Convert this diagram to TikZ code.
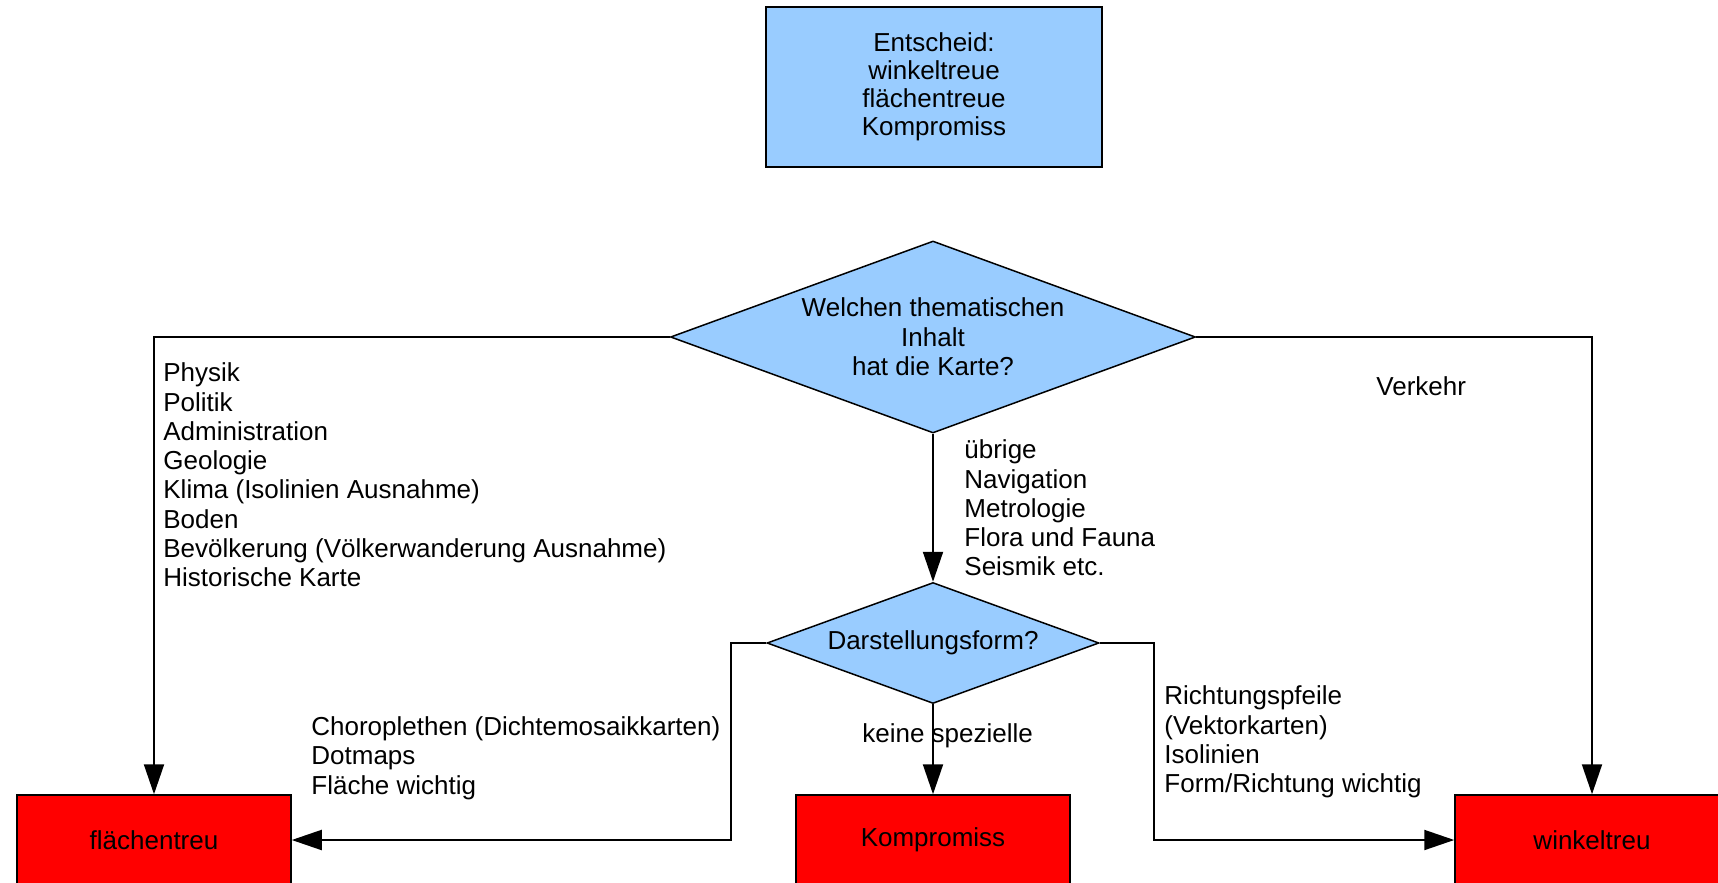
\documentclass[tikz,border=0pt]{standalone}
\usepackage{fontspec}
\setmainfont{Liberation Sans}
\usetikzlibrary{arrows.meta}
\usetikzlibrary{shapes.geometric}
\definecolor{DiagramBlue}{RGB}{153,204,255}
\definecolor{DiagramRed}{RGB}{255,0,0}

\begin{document}
\begin{tikzpicture}[x=0.5bp,y=-0.5bp,line join=miter]
  \path[use as bounding box] (0,0) rectangle (1718,882);
  \fill[white] (0,0) rectangle (1718,882);

  \tikzset{
    box/.style={draw=black,line width=0.75bp,fill=DiagramBlue,inner sep=0pt,align=center,
      font=\fontsize{13bp}{14bp}\selectfont},
    frage/.style={shape=diamond,draw=black,line width=0.75bp,fill=DiagramBlue,inner sep=0pt,
      align=center,font=\fontsize{13bp}{14.7bp}\selectfont},
    ziel/.style={draw=black,line width=0.75bp,fill=DiagramRed,minimum width=137bp,
      minimum height=45bp,inner sep=0pt,font=\fontsize{13bp}{13bp}\selectfont},
    liste/.style={anchor=west,inner sep=0pt,align=left,
      font=\fontsize{13bp}{14.65bp}\selectfont},
    pfeil/.style={-{Triangle[length=15bp,width=10bp]},line width=1bp},
  }

  % Entscheid oben
  \node[box,minimum width=168bp,minimum height=80bp] (entscheid) at (934,87)
    {Entscheid:\\winkeltreue\\flächentreue\\Kompromiss};

  % Fragen
  \node[frage,aspect=2.73,minimum width=262.5bp,minimum height=96bp] (inhalt) at (933,337)
    {Welchen thematischen\\Inhalt\\hat die Karte?};
  \node[frage,aspect=2.74,minimum width=166bp,minimum height=60.5bp] (form) at (933,643)
    {Darstellungsform?};

  % Ergebnisse
  \node[ziel] (flaeche) at (154,840) {flächentreu};
  \node[ziel] (kompromiss) at (933,840) {Kompromiss};
  \node[ziel] (winkel) at (1592,840) {winkeltreu};

  % Beschriftungen
  \node[liste] (themen) at (163,475) {Physik\\Politik\\Administration\\Geologie\\Klima (Isolinien Ausnahme)\\Boden\\Bevölkerung (Völkerwanderung Ausnahme)\\Historische Karte};
  \node[liste] (verkehr) at (1376,386) {Verkehr};
  \node[liste] (uebrige) at (964,508) {übrige\\Navigation\\Metrologie\\Flora und Fauna\\Seismik etc.};
  \node[liste] (choro) at (311,758) {Choroplethen (Dichtemosaikkarten)\\Dotmaps\\Fläche wichtig};
  \node[liste] (keine) at (862,736) {keine spezielle};
  \node[liste] (richtung) at (1164,742) {Richtungspfeile\\(Vektorkarten)\\Isolinien\\Form/Richtung wichtig};

  % Verbindungen
  \draw[pfeil] (inhalt.west) -| (flaeche.north);
  \draw[pfeil] (inhalt.east) -| (winkel.north);
  \draw[pfeil] (inhalt.south) -- (form.north);
  \draw[pfeil] (form.west) -- ++(-35,0) |- (flaeche.east);
  \draw[pfeil] (form.east) -- ++(54,0) |- (winkel.west);
  \draw[pfeil] (form.south) -- (kompromiss.north);

\end{tikzpicture}
\end{document}
